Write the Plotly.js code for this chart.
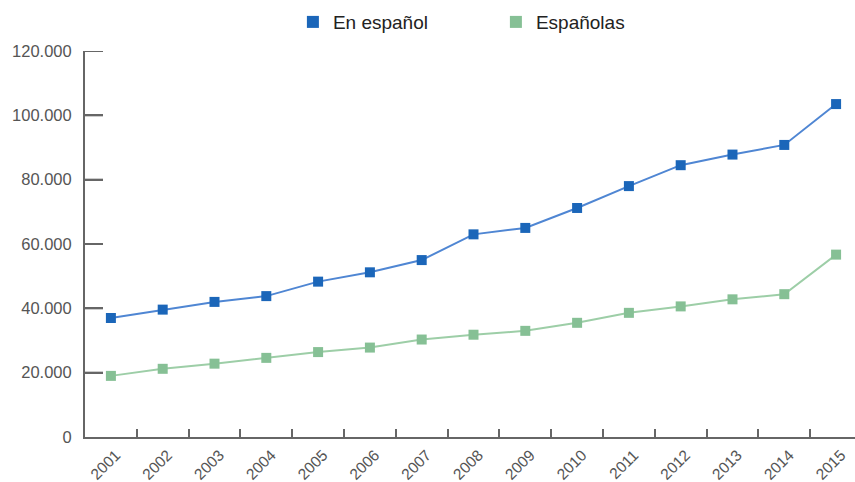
<!DOCTYPE html>
<html>
<head>
<meta charset="utf-8">
<script src="https://cdn.plot.ly/plotly-3.0.1.min.js"></script>
<style>html,body{margin:0;padding:0;background:#fff;}#chart{width:855px;height:482px;}</style>
</head>
<body>
<div id="chart"></div>
<script>
const years = ["2001","2002","2003","2004","2005","2006","2007","2008","2009","2010","2011","2012","2013","2014","2015"];
const enEspanol = [37000, 39600, 42000, 43800, 48300, 51200, 55000, 63000, 65000, 71200, 78000, 84500, 87800, 90800, 103500];
const espanolas = [19000, 21200, 22800, 24600, 26400, 27800, 30300, 31800, 33000, 35500, 38600, 40600, 42800, 44400, 56700];
const seriesNames = ["En español", "Españolas"];
const yTicks = [0, 20000, 40000, 60000, 80000, 100000, 120000];

const blueLine = "#4f86d3", blueMarker = "#1b66b9";
const greenLine = "#9dcea7", greenMarker = "#86c095";
const axisColor = "#666";

const traces = [
  {x: years, y: enEspanol, mode: "lines", line: {color: blueLine, width: 2}, showlegend: false, hoverinfo: "skip"},
  {x: years, y: espanolas, mode: "lines", line: {color: greenLine, width: 2}, showlegend: false, hoverinfo: "skip"},
  {x: years, y: enEspanol, name: seriesNames[0], mode: "markers", marker: {symbol: "square", size: 10, color: blueMarker}},
  {x: years, y: espanolas, name: seriesNames[1], mode: "markers", marker: {symbol: "square", size: 10, color: greenMarker}}
];

// short inward tick marks on the y axis, one per tick value
const yTickShapes = yTicks.filter(v => v > 0).map(v => ({
  type: "line", xref: "x domain", yref: "y",
  x0: 0, x1: 18 / 770, y0: v, y1: v,
  line: {color: axisColor, width: 2}, layer: "above"
}));

const layout = {
  width: 855, height: 482,
  margin: {l: 85, r: 0, t: 51, b: 45},
  paper_bgcolor: "#fff", plot_bgcolor: "#fff",
  separators: ",.",
  font: {family: "Liberation Sans, Arial, sans-serif", color: "#555"},
  showlegend: true,
  legend: {
    orientation: "h", x: 0.27, xanchor: "left", y: 1.075, yanchor: "middle",
    font: {size: 19, color: "#222"},
    entrywidth: 158, entrywidthmode: "pixels",
    itemsizing: "constant"
  },
  shapes: yTickShapes,
  xaxis: {
    type: "category",
    range: [-0.5, 14.365],
    tickson: "boundaries",
    ticks: "inside", ticklen: 8, tickwidth: 2, tickcolor: axisColor,
    showline: true, linecolor: axisColor, linewidth: 2,
    showgrid: false, zeroline: false,
    tickangle: -45,
    ticklabelstandoff: 1,
    ticklabelshift: 5,
    tickfont: {size: 15.5, color: "#555"},
    fixedrange: true
  },
  yaxis: {
    range: [0, 120000],
    tickmode: "array",
    tickvals: yTicks,
    tickformat: ",d",
    ticks: "inside", ticklen: 18, tickwidth: 2, tickcolor: axisColor,
    showline: true, linecolor: axisColor, linewidth: 2,
    showgrid: false, zeroline: false,
    ticklabelstandoff: 8,
    tickfont: {size: 16.5, color: "#555"},
    fixedrange: true
  }
};

Plotly.newPlot("chart", traces, layout, {displayModeBar: false, staticPlot: true});
</script>
</body>
</html>
